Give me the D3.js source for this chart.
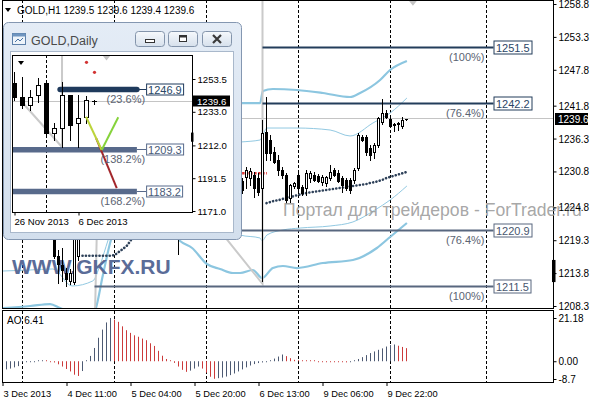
<!DOCTYPE html>
<html><head><meta charset="utf-8">
<script src="https://cdn.jsdelivr.net/npm/d3@7"></script>
<style>body{margin:0;background:#fff;overflow:hidden}svg{display:block;font-family:"Liberation Sans",Arial,sans-serif}</style>
</head><body><svg id="c" width="596" height="400"></svg>
<script>
// ---------------- DATA ----------------
const headerQuote = ["GOLD,H1", 1239.5, 1239.6, 1239.4, 1239.6];
const priceTicks = [1258.8,1253.3,1247.8,1241.8,1236.3,1230.8,1224.8,1219.3,1213.8,1208.3];
const currentPrice = 1239.6;
const timeTicks = [0,16,32,48,64,80,96];
const timeLabels = ["3 Dec 2013","4 Dec 11:00","5 Dec 04:00","5 Dec 20:00","6 Dec 13:00","9 Dec 06:00","9 Dec 22:00"];
const separators = [5,28,51,74,97,121];
// H1 candles: [bar, open, high, low, close]
const mainCandles = [
 [13,1222.0,1225.0,1216.3,1216.7],[14,1216.7,1217.7,1212.2,1215.3],[15,1215.2,1218.0,1212.5,1214.3],
 [16,1213.9,1214.7,1211.6,1212.8],[17,1212.5,1214.5,1211.9,1213.8],[18,1212.3,1223.0,1212.0,1222.0],
 [19,1216.7,1226.0,1216.0,1224.0],[44,1226.0,1230.0,1217.0,1224.0],
 [60,1229.20,1229.70,1227.20,1227.70],[61,1229.87,1231.54,1228.03,1231.04],[62,1229.70,1231.38,1228.53,1230.87],
 [63,1230.21,1230.71,1226.53,1228.03],[64,1229.70,1230.54,1226.86,1227.36],[65,1228.03,1239.40,1212.48,1237.23],
 [66,1237.40,1243.25,1232.71,1233.89],[67,1236.06,1236.89,1232.71,1233.89],[68,1234.05,1234.89,1232.21,1232.38],
 [69,1232.71,1233.55,1230.21,1231.04],[70,1231.04,1231.54,1229.70,1230.21],[71,1230.21,1230.54,1225.52,1226.02],
 [72,1226.36,1228.70,1225.69,1228.53],[73,1228.37,1229.03,1228.03,1228.87],[74,1230.21,1231.04,1227.20,1228.03],
 [75,1228.20,1228.53,1226.86,1227.20],[76,1228.03,1231.04,1226.86,1230.54],[77,1229.70,1230.87,1229.03,1230.54],
 [78,1230.21,1230.71,1229.20,1229.37],[79,1230.04,1230.37,1229.03,1229.20],[80,1229.03,1230.21,1228.53,1229.87],
 [81,1228.87,1230.04,1228.37,1229.87],[82,1229.70,1231.88,1229.37,1230.71],[83,1231.04,1231.38,1230.04,1230.21],
 [84,1230.54,1231.04,1229.03,1229.20],[85,1229.70,1230.04,1227.36,1228.53],[86,1229.37,1229.70,1227.70,1228.03],
 [87,1229.37,1229.70,1227.20,1227.70],[88,1229.37,1231.38,1228.87,1231.04],[89,1231.38,1237.23,1231.04,1236.89],
 [90,1236.56,1236.89,1235.89,1236.06],[91,1236.56,1236.89,1233.55,1234.05],[92,1234.72,1235.22,1232.71,1233.55],
 [93,1234.05,1235.56,1233.05,1235.22],[94,1235.22,1239.90,1234.89,1239.74],[95,1239.07,1242.91,1238.73,1240.57],
 [96,1240.57,1241.07,1239.74,1239.90],[97,1239.57,1240.07,1238.20,1238.40],[98,1238.73,1238.90,1237.60,1238.60],
 [99,1238.80,1239.10,1237.70,1238.90],[100,1238.40,1239.90,1238.06,1239.40],[101,1239.5,1239.6,1239.4,1239.6]
];
// band lines: [bar, price]
const bandUpperOuter = [[57,1242.4],[59.4,1242.24],[64.4,1242.24],[65.1,1244.25],[67.6,1244.59],[73.6,1244.42],[80.1,1243.92],[86.9,1243.25],[89.4,1243.92],[94.4,1246.09],[96.9,1247.76],[101.1,1249.27]];
const bandUpperInner = [[57,1235.6],[59.4,1235.72],[64.4,1236.06],[65.1,1236.89],[66.1,1238.06],[73.6,1238.06],[81.9,1237.73],[86.9,1236.73],[92.6,1238.90],[96.9,1240.57],[101.1,1243.08]];
const bandLowerInner = [[0.1,1214.15],[6.9,1214.32],[12.6,1214.49],[17.4,1211.65],[22.6,1212.5],[24.4,1215.16],[26.4,1219.33],[29,1224.0],[40,1227.0],[52,1225.0],[57,1221.0],[59.4,1220.17],[64.4,1219.67],[64.9,1219.17],[66.1,1220.17],[70.1,1221.01],[74.4,1221.34],[81.9,1221.68],[87.6,1222.35],[93.1,1224.35],[96.9,1226.02],[101.1,1228.37]];
const bandLowerOuter = [[0.1,1207.96],[6.9,1208.3],[11.9,1208.63],[14.4,1207.96],[18.1,1206.96],[21.9,1206.63],[23.1,1207.46],[25.1,1213.48],[26.9,1218.83],[30,1224.0],[38,1226.0],[44.4,1219.17],[47.4,1218.0],[51.1,1215.32],[54.4,1214.49],[57.6,1213.82],[59.4,1213.82],[62.6,1214.32],[64.9,1212.98],[67.6,1214.65],[70.1,1214.99],[73.6,1214.65],[80.1,1215.49],[87.6,1215.99],[93.6,1218.0],[96.9,1219.84],[101.1,1222.18]];
const sarLeft = [[20,1216.7],[21,1216.7],[22,1216.7],[23,1216.7],[24,1216.7],[25,1216.7],[26,1216.7],[27,1216.7],[28,1216.8],[29,1217.3],[30,1217.8],[31,1218.3],[32,1219.2],[33,1220.3],[34,1221.5]];
const sarRight = [[66,1225.5],[67,1225.7],[68,1225.9],[69,1226.0],[70,1226.2],[71,1226.4],[72,1226.5],[73,1226.7],[74,1226.9],[75,1227.0],[76,1227.2],[77,1227.3],[78,1227.4],[79,1227.5],[80,1227.6],[81,1227.7],[82,1227.8],[83,1227.9],[84,1228.0],[85,1228.1],[86,1228.2],[87,1228.3],[88,1228.4],[89,1228.5],[90,1228.6],[91,1228.7],[92,1228.9],[93,1229.0],[94,1229.2],[95,1229.4],[96,1229.7],[97,1229.9],[98,1230.1],[99,1230.3],[100,1230.5],[101,1230.7]];
const redLevel = [[59.9,1230.5],[66.1,1230.5]];
const zigzagMain = [[23.1,1206.0],[24.4,1245.9],[65,1212.0],[65,1266]];
const zigzagMarkMain = [102.6,1259.0];
const axisMarkMain = [1216.0,1212.3];
const fibMain = [
 {price:1251.5, pct:"(100%)",  from:65, tone:"dark"},
 {price:1242.2, pct:"(76.4%)", from:65, tone:"dark"},
 {price:1220.9, pct:"(76.4%)", from:23, tone:"light"},
 {price:1211.5, pct:"(100%)",  from:23, tone:"light"}
];
const fibBoxBar = 122.75;
const aoTicks = [21.18,0,-8.7];
const aoTickLabels = ["21.18","0.00","-8.7"];
const aoLast = "6.41";
const aoValues = [-4.5,-4.0,-3.6,-3.0,-2.4,-0.5,-0.3,-0.2,-0.15,0.2,0.3,0.2,-0.2,-0.6,-1.5,-2.6,-3.8,-5.0,-6.6,-7.2,
 -4.8,0.3,2.6,6.5,11.5,15.5,19.0,21.18,20.4,19.3,17.1,15.2,13.9,12.7,12.0,11.1,10.3,8.8,7.5,5.1,
 2.7,1.1,0.3,-0.8,-2.6,-4.2,-5.2,-4.6,-3.6,-2.6,-3.6,-5.6,-7.6,-8.6,-8.3,-8.0,-7.5,-6.8,-6.0,-5.0,
 -4.0,-3.0,-2.1,-1.4,-0.9,-0.6,-0.4,0.5,1.3,2.3,3.3,2.5,1.5,0.7,0.4,0.3,0.2,0.0,0.0,-0.1,
 -0.2,-0.3,-0.35,-0.4,-0.45,-0.5,-0.55,-0.4,0.2,1.1,2.0,3.0,4.0,4.8,5.6,6.3,7.2,7.9,8.2,7.6,7.0,6.41];
const watermark1 = "WWW.GKFX.RU";
const watermark2 = "Портал для трейдеров - ForTrader.ru";
// Daily inset
const insetTitle = "GOLD,Daily";
const dailyCandles = [
 [0,1251.0,1257.9,1240.4,1242.25],[1,1242.25,1254.75,1235.4,1237.25],[2,1237.25,1246.6,1234.1,1242.25],
 [3,1243.5,1254.1,1239.1,1249.75],[4,1251.0,1251.6,1218.5,1219.75],[5,1219.75,1226.0,1215.4,1222.9],
 [6,1222.9,1251.6,1211.0,1243.5],[7,1243.5,1243.5,1215.4,1224.75],[8,1226.0,1243.5,1211.0,1229.1],
 [9,1229.75,1242.9,1226.0,1240.4],[10,1239.5,1240.5,1238.0,1239.6]
];
const dailyTicks = [1253.5,1233.0,1212.0,1191.5,1171.0];
const dailyTimeTicks = [0,8];
const dailyTimeLabels = ["26 Nov 2013","6 Dec 2013"];
const dailySeparators = [4];
const dailySar = [[9,1263.9],[10,1257.7]];
const dailyZigzag = [[0.7,1240.4],[5.94,1211.0],[5.94,1290]];
const dailyZigzagMark = [11.5,1267.0];
const dailyAxisMark = [1220.0,1214.3];
const fibDaily = [
 {price:1246.9, pct:"(23.6%)",  from:5.7, tone:"dark"},
 {price:1209.3, pct:"(138.2%)", from:-1,  tone:"light"},
 {price:1183.2, pct:"(168.2%)", from:-1,  tone:"light"}
];
const fibDailyEnd = 15.3, fibDailyBox = 16.45;
const dailyExpRed = [[10.2,1216.5],[12.78,1185.3]];
const dailyExpYellow = [[8.94,1229.9],[10.9,1209.1]];
const dailyExpGreen = [[10.9,1209.1],[12.97,1229.6]];

// ---------------- DRAW ----------------
const FONT = '"Liberation Sans",Arial,sans-serif';
const svg = d3.select("#c");
const x = d3.scaleLinear().domain([0,1]).range([2.5,6.5]);
const y = d3.scaleLinear().domain([1208.3,1258.8]).range([306,4]);
const yA = d3.scaleLinear().domain([-8.7,21.18]).range([379,318]);
const crisp = v => Math.round(v - 0.5) + 0.5;

svg.append("rect").attr("width",596).attr("height",400).attr("fill","#fff");
const defs = svg.append("defs");
defs.append("clipPath").attr("id","cm").append("rect").attr("x",3).attr("y",1).attr("width",550).attr("height",307);
defs.append("clipPath").attr("id","ca").append("rect").attr("x",3).attr("y",311).attr("width",550).attr("height",71);
defs.append("clipPath").attr("id","ci").append("rect").attr("x",13).attr("y",56).attr("width",179).attr("height",156);
const grad = defs.append("linearGradient").attr("id","btn").attr("x1",0).attr("y1",0).attr("x2",0).attr("y2",1);
grad.append("stop").attr("offset","0%").attr("stop-color","#f6f9fc");
grad.append("stop").attr("offset","100%").attr("stop-color","#d6e0ec");
const wgrad = defs.append("linearGradient").attr("id","win").attr("x1",0).attr("y1",0).attr("x2",0).attr("y2",1);
wgrad.append("stop").attr("offset","0%").attr("stop-color","#e4ecf6");
wgrad.append("stop").attr("offset","100%").attr("stop-color","#d3dfed");

function drawCandles(g, data, xs, ys, half) {
  data.forEach(([i,o,h,l,c]) => {
    const cx = xs(i);
    g.append("line").attr("x1",cx).attr("x2",cx).attr("y1",Math.round(ys(h))).attr("y2",Math.round(ys(l))+1)
      .attr("stroke","#000").attr("stroke-width",1);
    const top = Math.round(ys(Math.max(o,c))) + 0.5, bot = Math.round(ys(Math.min(o,c))) + 0.5;
    if (bot - top < 1) {
      g.append("line").attr("x1",cx-half-0.5).attr("x2",cx+half+0.5).attr("y1",top).attr("y2",top).attr("stroke","#000");
    } else {
      g.append("rect").attr("x",cx-half).attr("y",top).attr("width",half*2).attr("height",bot-top)
        .attr("fill", c >= o ? "#fff" : "#000").attr("stroke","#000").attr("stroke-width",1);
    }
  });
}

// ----- main panel -----
const gm = svg.append("g").attr("clip-path","url(#cm)");
separators.forEach(s => gm.append("line").attr("x1",x(s)).attr("x2",x(s)).attr("y1",0).attr("y2",309)
  .attr("stroke","#000").attr("stroke-dasharray","3,2"));
gm.append("line").attr("x1",3).attr("x2",553).attr("y1",crisp(y(currentPrice))).attr("y2",crisp(y(currentPrice)))
  .attr("stroke","#c4c4c4");
const line = d3.line().x(d => x(d[0])).y(d => y(d[1]));
const smooth = d3.line().x(d => x(d[0])).y(d => y(d[1])).curve(d3.curveMonotoneX);
gm.append("path").attr("d",smooth(bandUpperOuter)).attr("fill","none").attr("stroke","#8cc6e0").attr("stroke-width",2.2);
gm.append("path").attr("d",smooth(bandLowerOuter)).attr("fill","none").attr("stroke","#8cc6e0").attr("stroke-width",2.2);
gm.append("path").attr("d",smooth(bandUpperInner)).attr("fill","none").attr("stroke","#92c9e2").attr("stroke-width",1);
gm.append("path").attr("d",smooth(bandLowerInner)).attr("fill","none").attr("stroke","#92c9e2").attr("stroke-width",1);
gm.append("path").attr("d",line(zigzagMain)).attr("fill","none").attr("stroke","#cacaca").attr("stroke-width",2);
{
  const mx = x(zigzagMarkMain[0]), my = y(zigzagMarkMain[1]);
  gm.append("path").attr("d",`M${mx-4},${my-2}L${mx+4},${my-2}L${mx},${my+3}Z`).attr("fill","#c4c4c4");
}
// fib levels
const fibColor = {dark:"#233d5b", light:"#58677f"};
const fibText = {dark:"#2b4565", light:"#48566e"};
gm.append("text").attr("x",12).attr("y",273.5).attr("font-family",FONT).attr("font-weight","bold")
  .attr("font-size",21).attr("fill","#5a6c98").text(watermark1);
fibMain.forEach(f => {
  const yy = crisp(y(f.price));
  gm.append("line").attr("x1",x(f.from)).attr("x2",x(fibBoxBar)).attr("y1",yy).attr("y2",yy)
    .attr("stroke",fibColor[f.tone]).attr("stroke-width",2);
});
gm.append("path").attr("d",line(sarLeft)).attr("fill","none").attr("stroke","#2e4159").attr("stroke-width",2.6)
  .attr("stroke-linecap","round").attr("stroke-dasharray","0.1,3.3");
gm.append("path").attr("d",line(sarRight)).attr("fill","none").attr("stroke","#2e4159").attr("stroke-width",2.6)
  .attr("stroke-linecap","round").attr("stroke-dasharray","0.1,3.3");
gm.append("path").attr("d",line(redLevel)).attr("fill","none").attr("stroke","#e03a3a").attr("stroke-width",2.5)
  .attr("stroke-dasharray","2.5,1.5");
drawCandles(gm, mainCandles, x, y, 1);
fibMain.forEach(f => {
  const yy = crisp(y(f.price)), bx = x(fibBoxBar);
  const t = gm.append("text").attr("x",bx+2.5).attr("y",yy+4).attr("font-family",FONT).attr("font-size",11)
    .attr("fill",fibText[f.tone]).text(f.price.toFixed(1));
  const w = t.node().getComputedTextLength();
  gm.insert("rect","text:last-of-type").attr("x",bx+0.5).attr("y",yy-6.5).attr("width",Math.round(w)+4).attr("height",13)
    .attr("fill","#fff").attr("stroke",fibColor[f.tone]);
  t.raise();
  gm.append("text").attr("x",bx-9).attr("y",yy+13.5).attr("text-anchor","end").attr("font-family",FONT)
    .attr("font-size",11).attr("fill","#5b6372").text(f.pct);
});
svg.append("rect").attr("x",2.5).attr("y",0.5).attr("width",551).attr("height",308).attr("fill","none").attr("stroke","#000");
// overlay watermark text (extends over the price scale, as in the terminal)
svg.append("text").attr("x",283).attr("y",216).attr("font-family",FONT).attr("font-size",17.6)
  .attr("fill","#9c9c9c").attr("fill-opacity",0.9).text(watermark2);

// header
svg.append("path").attr("d","M5,8L11,8L8,12Z").attr("fill","#000");
svg.append("text").attr("x",17).attr("y",13.5).attr("font-family",FONT).attr("font-size",10).attr("fill","#000")
  .text(headerQuote[0] + " " + headerQuote.slice(1).map(v=>v.toFixed(1)).join(" "));

// price axis
const ya = svg.append("g").attr("transform","translate(553.5,0)")
  .call(d3.axisRight(y).tickValues(priceTicks).tickSize(3).tickPadding(2).tickFormat(d3.format(".1f")));
ya.select(".domain").remove();
ya.attr("font-family",FONT).attr("font-size",10);
ya.selectAll("text").attr("dy","0.35em");
{
  const cy = y(currentPrice);
  svg.append("rect").attr("x",555).attr("y",Math.round(cy)-6).attr("width",33).attr("height",12).attr("fill","#000");
  svg.append("text").attr("x",558).attr("y",Math.round(cy)+3.5).attr("font-family",FONT).attr("font-size",10)
    .attr("fill","#fff").text(currentPrice.toFixed(1));
  svg.append("rect").attr("x",552).attr("y",y(axisMarkMain[0])).attr("width",3.5)
    .attr("height",y(axisMarkMain[1])-y(axisMarkMain[0])).attr("fill","#000");
}

// ----- AO panel -----
const ga = svg.append("g").attr("clip-path","url(#ca)");
separators.forEach(s => ga.append("line").attr("x1",x(s)).attr("x2",x(s)).attr("y1",311).attr("y2",383)
  .attr("stroke","#000").attr("stroke-dasharray","3,2"));
aoValues.forEach((v,i) => {
  const up = i === 0 || v > aoValues[i-1];
  const y0 = yA(0), y1 = yA(v);
  ga.append("line").attr("x1",x(i)).attr("x2",x(i)).attr("y1",y0).attr("y2",Math.abs(y1-y0)<1 ? y0+ (v>=0?-1:1) : y1)
    .attr("stroke", up ? "#4d5a73" : "#cc3b3b").attr("stroke-width",1);
});
svg.append("rect").attr("x",2.5).attr("y",310.5).attr("width",551).attr("height",72).attr("fill","none").attr("stroke","#000");
svg.append("text").attr("x",7).attr("y",323.5).attr("font-family",FONT).attr("font-size",10).text("AO " + aoLast);
const yaa = svg.append("g").attr("transform","translate(553.5,0)")
  .call(d3.axisRight(yA).tickValues(aoTicks).tickSize(3).tickPadding(2).tickFormat((d,i)=>aoTickLabels[i]));
yaa.select(".domain").remove();
yaa.attr("font-family",FONT).attr("font-size",10);

// time axis
const xa = svg.append("g").attr("transform","translate(0,383)")
  .call(d3.axisBottom(x).tickValues(timeTicks).tickSize(3).tickFormat((d,i)=>timeLabels[i]));
xa.select(".domain").remove();
xa.attr("font-family",FONT).attr("font-size",9.3);
xa.selectAll("text").attr("text-anchor","start").attr("x",0.5).attr("y",7);

// ----- Daily inset window -----
const gw = svg.append("g");
gw.append("rect").attr("x",3.5).attr("y",22.5).attr("width",238).attr("height",217).attr("rx",5)
  .attr("fill","url(#win)").attr("stroke","#8497b1");
gw.append("rect").attr("x",10.5).attr("y",51.5).attr("width",223).attr("height",181)
  .attr("fill","#fff").attr("stroke","#a9b8cb");
// title icon
gw.append("rect").attr("x",12.5).attr("y",33.5).attr("width",13).attr("height",11).attr("fill","#eef4fa").attr("stroke","#5d80aa");
gw.append("rect").attr("x",12.5).attr("y",33.5).attr("width",13).attr("height",3).attr("fill","#6f95c0");
gw.append("path").attr("d","M15,42L18,39L20,41L23,38").attr("fill","none").attr("stroke","#4a74a5");
gw.append("text").attr("x",31).attr("y",44.5).attr("font-family",FONT).attr("font-size",12.5).attr("fill","#4a4a4a").text(insetTitle);
[[135,"min"],[168,"max"],[202,"close"]].forEach(([bx,k]) => {
  gw.append("rect").attr("x",bx+0.5).attr("y",31.5).attr("width",29).attr("height",15).attr("rx",3)
    .attr("fill","url(#btn)").attr("stroke","#8394ab");
  if (k==="min") gw.append("rect").attr("x",bx+10.5).attr("y",39.5).attr("width",9).attr("height",3).attr("fill","#fff").attr("stroke","#333");
  if (k==="max") { gw.append("rect").attr("x",bx+11.5).attr("y",35.5).attr("width",7).attr("height",6).attr("fill","#fff").attr("stroke","#333");
                   gw.append("rect").attr("x",bx+11.5).attr("y",35.5).attr("width",7).attr("height",2).attr("fill","#333"); }
  if (k==="close") gw.append("path").attr("d",`M${bx+11},35L${bx+19},43M${bx+19},35L${bx+11},43`)
    .attr("stroke","#3a3a3a").attr("stroke-width",2.2).attr("fill","none");
});

const xi = d3.scaleLinear().domain([0,1]).range([14.5,22.5]);
const yi = d3.scaleLinear().domain([1171,1253.5]).range([211,79]);
const gi = gw.append("g").attr("clip-path","url(#ci)");
dailySeparators.forEach(s => gi.append("line").attr("x1",xi(s)).attr("x2",xi(s)).attr("y1",55).attr("y2",213)
  .attr("stroke","#000").attr("stroke-dasharray","3,2"));
gi.append("line").attr("x1",13).attr("x2",192).attr("y1",crisp(yi(currentPrice))).attr("y2",crisp(yi(currentPrice))).attr("stroke","#c4c4c4");
const lineI = d3.line().x(d => xi(d[0])).y(d => yi(d[1]));
gi.append("path").attr("d",lineI(dailyZigzag)).attr("fill","none").attr("stroke","#cacaca").attr("stroke-width",2);
{
  const mx = xi(dailyZigzagMark[0]), my = yi(dailyZigzagMark[1]);
  gi.append("path").attr("d",`M${mx-4},${my-2}L${mx+4},${my-2}L${mx},${my+3}Z`).attr("fill","#c4c4c4");
}
const fibColorI = {dark:"#1f3a5c", light:"#586a8b"};
fibDaily.forEach(f => {
  const yy = yi(f.price);
  gi.append("line").attr("x1",xi(f.from)).attr("x2",xi(fibDailyEnd)).attr("y1",yy).attr("y2",yy)
    .attr("stroke",fibColorI[f.tone]).attr("stroke-width",5.5).attr("stroke-linecap", f.tone==="dark"?"round":"butt");
  gi.append("line").attr("x1",xi(fibDailyEnd)).attr("x2",xi(fibDailyBox)).attr("y1",crisp(yy)).attr("y2",crisp(yy))
    .attr("stroke",fibColorI[f.tone]);
});
drawCandles(gi, dailyCandles, xi, yi, 2);
gi.selectAll("circle").data(dailySar).join("circle").attr("cx",d=>xi(d[0])).attr("cy",d=>yi(d[1])).attr("r",1.6).attr("fill","#d23333");
gi.append("path").attr("d",lineI(dailyExpRed)).attr("stroke","#a3262b").attr("stroke-width",2).attr("fill","none");
gi.append("path").attr("d",lineI(dailyExpYellow)).attr("stroke","#bcd43a").attr("stroke-width",2).attr("fill","none");
gi.append("path").attr("d",lineI(dailyExpGreen)).attr("stroke","#86d33c").attr("stroke-width",2).attr("fill","none");
fibDaily.forEach(f => {
  const yy = crisp(yi(f.price)), bx = xi(fibDailyBox);
  const t = gi.append("text").attr("x",bx+2).attr("y",yy+4).attr("font-family",FONT).attr("font-size",11)
    .attr("fill",f.tone==="dark"?"#294766":"#4a5b78").text(f.price.toFixed(1));
  const w = t.node().getComputedTextLength();
  gi.insert("rect","text:last-of-type").attr("x",bx+0.5).attr("y",yy-5.5).attr("width",Math.round(w)+3).attr("height",11)
    .attr("fill","#fff").attr("stroke",fibColorI[f.tone]);
  t.raise();
  gi.append("text").attr("x",bx-1).attr("y",yy+13).attr("text-anchor","end").attr("font-family",FONT)
    .attr("font-size",11).attr("fill","#5b6372").text(f.pct);
});
gw.append("path").attr("d","M18,61L24,61L21,65Z").attr("fill","#000");
gw.append("rect").attr("x",12.5).attr("y",55.5).attr("width",180).attr("height",157).attr("fill","none").attr("stroke","#000");
const yia = gw.append("g").attr("transform","translate(192.5,0)")
  .call(d3.axisRight(yi).tickValues(dailyTicks).tickSize(3).tickPadding(2).tickFormat(d3.format(".1f")));
yia.select(".domain").remove();
yia.attr("font-family",FONT).attr("font-size",9.6);
{
  const cy = Math.round(yi(currentPrice));
  gw.append("rect").attr("x",193).attr("y",cy-5.5).attr("width",37).attr("height",11).attr("fill","#000");
  gw.append("text").attr("x",197).attr("y",cy+3.5).attr("font-family",FONT).attr("font-size",9.6).attr("fill","#fff").text(currentPrice.toFixed(1));
  gw.append("rect").attr("x",191).attr("y",yi(dailyAxisMark[0])).attr("width",2.5)
    .attr("height",yi(dailyAxisMark[1])-yi(dailyAxisMark[0])).attr("fill","#000");
}
const xia = gw.append("g").attr("transform","translate(0,212.5)")
  .call(d3.axisBottom(xi).tickValues(dailyTimeTicks).tickSize(3).tickFormat((d,i)=>dailyTimeLabels[i]));
xia.select(".domain").remove();
xia.attr("font-family",FONT).attr("font-size",9.6);
xia.selectAll("text").attr("text-anchor","start").attr("x",-0.5).attr("y",6);
</script></body></html>
